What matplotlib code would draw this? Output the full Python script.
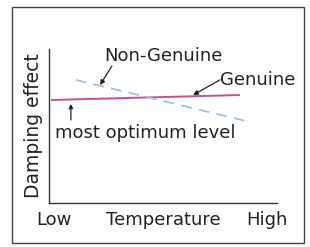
import matplotlib.pyplot as plt
from matplotlib.patches import Rectangle

# temperature (0 = low, 10 = high) vs damping effect
genuine_x = [0.13, 8.33]
genuine_y = [6.69, 7.01]
non_genuine_x = [1.18, 8.82]
non_genuine_y = [7.99, 5.26]

W, H = 310, 247
plt.rcParams["font.family"] = ["DejaVu Sans"]
fig = plt.figure(figsize=(W / 100, H / 100), dpi=100)

# outer frame of the figure
fig.patches.append(Rectangle((12 / W, 4 / H), 292 / W, 236 / H, transform=fig.transFigure,
                             fill=False, edgecolor="#444444", linewidth=1.0))

ax = fig.add_axes([49 / W, 1 - 203 / H, 228 / W, 154 / H])
ax.set_xlim(0, 10)
ax.set_ylim(0, 10)
ax.set_xticks([])
ax.set_yticks([])
for side in ["top", "right"]:
    ax.spines[side].set_visible(False)
for side in ["left", "bottom"]:
    ax.spines[side].set_color("#333333")
    ax.spines[side].set_linewidth(1.0)

ax.plot(genuine_x, genuine_y, color="#c8508c", linewidth=1.4)
ax.plot(non_genuine_x, non_genuine_y, color="#9fc3d8", linewidth=1.3,
        linestyle=(0, (6, 4)))

fs = 13
tc = "#222222"
arrow = dict(arrowstyle="-|>", color=tc, lw=0.9, shrinkA=0, shrinkB=0, mutation_scale=7)

ax.text(5.0, 9.55, "Non-Genuine", fontsize=fs, ha="center", va="center", color=tc)
ax.annotate("", xy=(2.24, 7.66), xytext=(2.76, 8.9), arrowprops=arrow)

ax.text(7.5, 7.99, "Genuine", fontsize=fs, ha="left", va="center", color=tc)
ax.annotate("", xy=(6.32, 7.01), xytext=(7.5, 8.0), arrowprops=arrow)

ax.annotate("", xy=(0.96, 6.43), xytext=(0.96, 5.39),
            arrowprops=dict(arrow, mutation_scale=6))
ax.text(0.26, 4.55, "most optimum level", fontsize=fs, ha="left", va="center", color=tc)

ax.set_ylabel("Damping effect", fontsize=fs + 0.5, color=tc, labelpad=4)
ax.text(0.2, -1.1, "Low", fontsize=fs, ha="center", va="center", color=tc)
ax.text(5.0, -1.1, "Temperature", fontsize=fs, ha="center", va="center", color=tc)
ax.text(9.55, -1.1, "High", fontsize=fs, ha="center", va="center", color=tc)

fig.savefig("out.png", dpi=100)
